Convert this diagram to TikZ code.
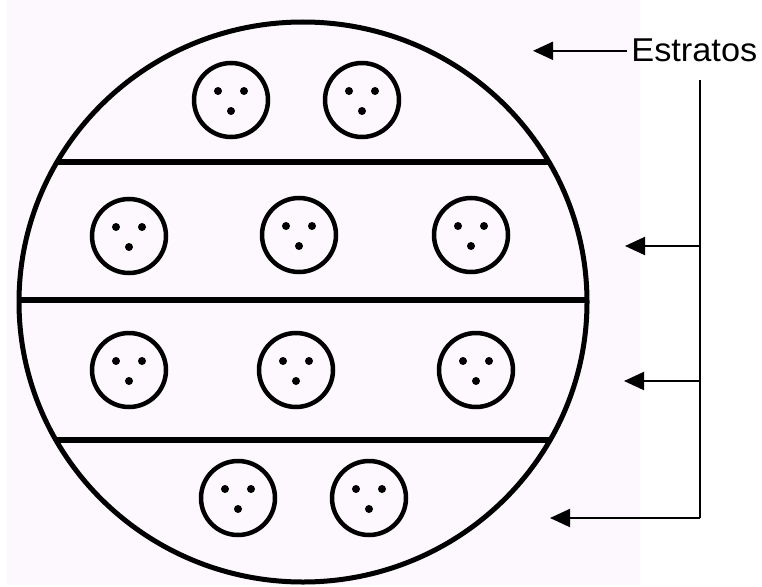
\documentclass[tikz,border=0pt]{standalone}
\usepackage{fontspec}
\setmainfont{Liberation Sans}
\usetikzlibrary{arrows.meta,positioning}
\definecolor{PaperPink}{RGB}{253,248,253}

\begin{document}
\begin{tikzpicture}[x=1pt,y=-1pt,
    pointer/.style={line width=2pt,-{Triangle[length=20pt,width=18pt]}}]
  \useasboundingbox (0,0) rectangle (762,586);
  \fill[PaperPink] (7,0) rectangle (640,585);
  % strata borders, cut by the population
  \begin{scope}
    \clip (303,302) ellipse (284 and 280);
    \foreach \y in {162,300,440}
      \draw[line width=6pt] (0,\y) -- (600,\y);
  \end{scope}
  \draw[line width=5pt] (303,302) ellipse (284 and 280);
  % sampling units
  \foreach \x/\y in {231/100,362/100,129/236,299/235,471/235,
                     129/370,296/370,476/370,238/498,369/498}{
    \draw[line width=4.5pt] (\x,\y) circle (37);
    \fill (\x-13,\y-9) circle (4) (\x+13,\y-9) circle (4)
          (\x,\y+11) circle (4);
  }
  % label and arrows
  \node[font=\fontsize{33}{38}\selectfont,inner sep=0pt,inner xsep=4pt,
        anchor=base west,xscale=1.04] (lbl) at (627,62) {Estratos};
  \coordinate (top tip) at (533,0);
  \coordinate (trunk top) at (700,80);
  \coordinate (trunk end) at (700,518);
  \coordinate (tip a) at (625,246);
  \coordinate (tip b) at (624,381);
  \coordinate (tip c) at (550,518);
  \draw[pointer] (lbl.west) -- (lbl.west -| top tip);
  \draw[line width=2pt] (trunk top) -- (trunk end);
  \foreach \t in {a,b,c}
    \draw[pointer] (trunk top |- tip \t) -- (tip \t);
\end{tikzpicture}
\end{document}
